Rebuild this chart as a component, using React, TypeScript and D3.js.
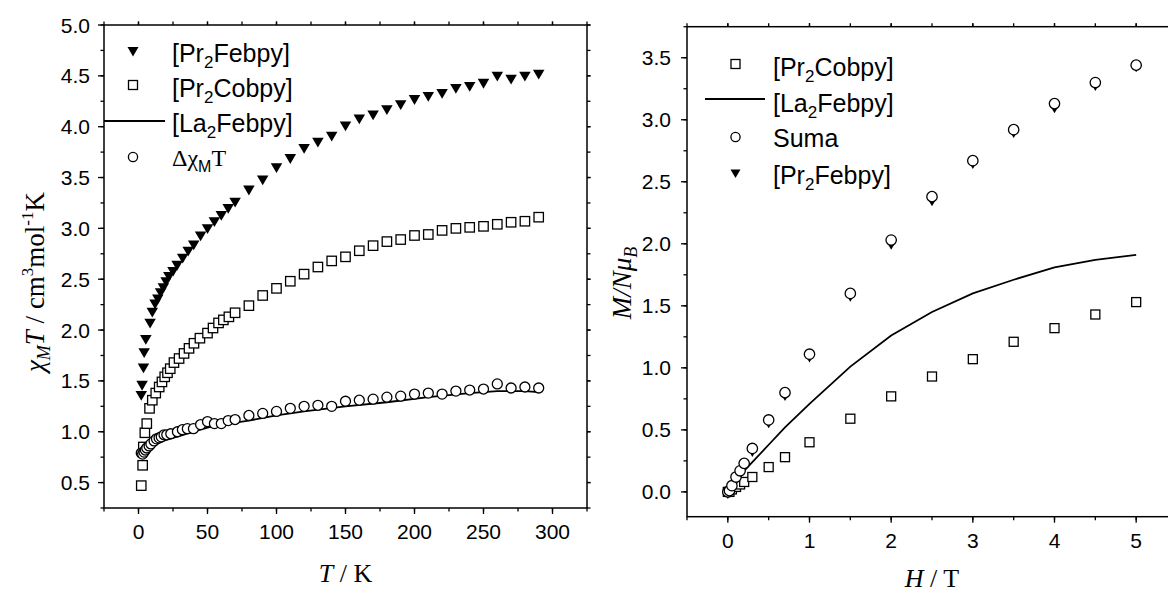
import React from "react";
import * as d3 from "d3";

// ---------- Left panel data (chi_M T vs T) ----------
const T_PrFe = [2, 2.6, 3.6, 4.1, 5.3, 8.4, 10, 12, 14, 16, 18, 20, 22, 25, 28, 32, 36, 40, 45, 50, 55, 60, 65, 70, 80, 90, 100, 110, 120, 130, 140, 150, 160, 170, 180, 190, 200, 210, 220, 230, 240, 250, 260, 270, 280, 290];
const V_PrFe = [1.36, 1.46, 1.63, 1.78, 1.91, 2.07, 2.18, 2.26, 2.31, 2.37, 2.42, 2.48, 2.53, 2.58, 2.64, 2.71, 2.78, 2.84, 2.93, 3.0, 3.07, 3.13, 3.2, 3.26, 3.38, 3.48, 3.6, 3.69, 3.79, 3.85, 3.91, 4.01, 4.08, 4.12, 4.17, 4.22, 4.27, 4.3, 4.33, 4.38, 4.4, 4.43, 4.5, 4.47, 4.5, 4.52];

const T_PrCo = [2, 3, 3.5, 4.6, 6, 8, 10, 12.5, 15, 17, 19, 21, 23, 25.7, 29.4, 33, 36.6, 40.2, 44.5, 50, 54, 58, 61.5, 65.5, 70, 80, 90, 100, 110, 120, 130, 140, 150, 160, 170, 180, 190, 200, 210, 220, 230, 240, 250, 260, 270, 280, 290];
const V_PrCo = [0.47, 0.67, 0.85, 0.99, 1.08, 1.23, 1.31, 1.38, 1.44, 1.49, 1.54, 1.58, 1.62, 1.68, 1.72, 1.77, 1.82, 1.87, 1.92, 1.97, 2.02, 2.07, 2.1, 2.13, 2.17, 2.24, 2.34, 2.41, 2.48, 2.55, 2.62, 2.68, 2.72, 2.78, 2.83, 2.87, 2.89, 2.93, 2.94, 2.98, 3.0, 3.01, 3.02, 3.04, 3.06, 3.07, 3.11];

const T_Delta = [2, 3, 4, 5, 6, 7.7, 9, 11.3, 13, 14.9, 16.5, 18.5, 20.5, 23.4, 28.2, 31.8, 35.4, 39.8, 45, 50, 55, 60, 65, 70, 80, 90, 100, 110, 120, 130, 140, 150, 160, 170, 180, 190, 200, 210, 220, 230, 240, 250, 260, 270, 280, 290];
const V_Delta = [0.79, 0.78, 0.8, 0.82, 0.84, 0.86, 0.88, 0.91, 0.93, 0.94, 0.95, 0.97, 0.97, 0.98, 1.0, 1.02, 1.03, 1.03, 1.07, 1.1, 1.08, 1.08, 1.11, 1.12, 1.16, 1.18, 1.2, 1.23, 1.25, 1.26, 1.25, 1.3, 1.31, 1.32, 1.34, 1.35, 1.37, 1.38, 1.37, 1.4, 1.41, 1.42, 1.47, 1.43, 1.44, 1.43];

const T_La = [2, 3, 5, 7, 10, 15, 20, 25, 30, 40, 50, 60, 70, 80, 100, 120, 150, 180, 210, 240, 260, 280, 290];
const V_La = [0.78, 0.79, 0.81, 0.84, 0.86, 0.89, 0.92, 0.94, 0.96, 1.0, 1.04, 1.07, 1.09, 1.11, 1.16, 1.2, 1.25, 1.29, 1.34, 1.38, 1.4, 1.4, 1.39];

// ---------- Right panel data (M/NmuB vs H) ----------
const H_pts = [0, 0.02, 0.05, 0.1, 0.15, 0.2, 0.3, 0.5, 0.7, 1, 1.5, 2, 2.5, 3, 3.5, 4, 4.5, 5];
const M_Suma = [0, 0.01, 0.05, 0.12, 0.17, 0.23, 0.35, 0.58, 0.8, 1.11, 1.6, 2.03, 2.38, 2.67, 2.92, 3.13, 3.3, 3.44];
const M_PrFe = [-0.02, -0.01, 0.02, 0.09, 0.14, 0.2, 0.32, 0.55, 0.77, 1.08, 1.57, 1.99, 2.34, 2.64, 2.89, 3.09, 3.27, 3.42];
const M_PrCo = [0, 0, 0.02, 0.04, 0.06, 0.08, 0.12, 0.2, 0.28, 0.4, 0.59, 0.77, 0.93, 1.07, 1.21, 1.32, 1.43, 1.53];
const H_La = [0, 0.1, 0.2, 0.3, 0.5, 0.7, 1, 1.5, 2, 2.5, 3, 3.5, 4, 4.5, 5];
const M_La = [0, 0.08, 0.17, 0.24, 0.38, 0.52, 0.71, 1.01, 1.26, 1.45, 1.6, 1.71, 1.81, 1.87, 1.91];

// ticks
const L_xMajor = [0, 50, 100, 150, 200, 250, 300];
const L_yMajor = [0.5, 1.0, 1.5, 2.0, 2.5, 3.0, 3.5, 4.0, 4.5, 5.0];
const R_xMajor = [0, 1, 2, 3, 4, 5];
const R_yMajor = [0.0, 0.5, 1.0, 1.5, 2.0, 2.5, 3.0, 3.5];

const SANS = "'Liberation Sans', Arial, sans-serif";
const SERIF = "'Liberation Serif', 'Times New Roman', serif";
const SW = 1.3;
const TICK_FS = 21;
const LEG_FS = 25;

const tri = (w: number, cx: number, cy: number) => {
  const h = w * 0.85;
  return `M${cx - w / 2},${cy - h * 0.42}L${cx + w / 2},${cy - h * 0.42}L${cx},${cy + h * 0.58}Z`;
};

function range(a: number, b: number, s: number) {
  const out: number[] = [];
  for (let v = a; v <= b + 1e-9; v += s) out.push(+v.toFixed(6));
  return out;
}

function Frame({ x, y, xMajor, xMinor, yMajor, yMinor, xFmt, yFmt, xLabelY, yLabelX }: any) {
  const [x0, x1] = x.range();
  const [y0, y1] = y.range(); // y0 bottom, y1 top
  const maj = 6, min = 3.5;
  return (
    <g>
      <rect x={x0} y={y1} width={x1 - x0} height={y0 - y1} fill="none" stroke="#000" strokeWidth={1.5} />
      {xMinor.map((v: number, i: number) => (
        <g key={"xm" + i}>
          <line x1={x(v)} x2={x(v)} y1={y0} y2={y0 + min} stroke="#000" strokeWidth={1.3} />
          <line x1={x(v)} x2={x(v)} y1={y1} y2={y1 - min} stroke="#000" strokeWidth={1.3} />
        </g>
      ))}
      {xMajor.map((v: number, i: number) => (
        <g key={"xM" + i}>
          <line x1={x(v)} x2={x(v)} y1={y0} y2={y0 + maj} stroke="#000" strokeWidth={1.3} />
          <line x1={x(v)} x2={x(v)} y1={y1} y2={y1 - min} stroke="#000" strokeWidth={1.3} />
          <text x={x(v)} y={xLabelY} textAnchor="middle" fontFamily={SANS} fontSize={TICK_FS}>{xFmt(v)}</text>
        </g>
      ))}
      {yMinor.map((v: number, i: number) => (
        <g key={"ym" + i}>
          <line x1={x0} x2={x0 - min} y1={y(v)} y2={y(v)} stroke="#000" strokeWidth={1.3} />
          <line x1={x1} x2={x1 + min} y1={y(v)} y2={y(v)} stroke="#000" strokeWidth={1.3} />
        </g>
      ))}
      {yMajor.map((v: number, i: number) => (
        <g key={"yM" + i}>
          <line x1={x0} x2={x0 - maj} y1={y(v)} y2={y(v)} stroke="#000" strokeWidth={1.3} />
          <line x1={x1} x2={x1 + min} y1={y(v)} y2={y(v)} stroke="#000" strokeWidth={1.3} />
          <text x={yLabelX} y={y(v) + 7.5} textAnchor="end" fontFamily={SANS} fontSize={TICK_FS}>{yFmt(v)}</text>
        </g>
      ))}
    </g>
  );
}

export default function App() {
  // Left scales
  const lx = d3.scaleLinear().domain([-25, 325]).range([104, 587]);
  const ly = d3.scaleLinear().domain([0.25, 5]).range([508, 25]);
  // Right scales
  const rx = d3.scaleLinear().domain([-0.5, 5.5]).range([687, 1177]);
  const ry = d3.scaleLinear().domain([-0.2, 3.75]).range([516.7, 26.7]);

  const lLine = d3.line<number>().x((_, i) => lx(T_La[i])).y((d) => ly(d));
  const rLine = d3.line<number>().x((_, i) => rx(H_La[i])).y((d) => ry(d));
  const f1 = d3.format(".1f");
  const f0 = d3.format("d");

  const legText = (pre: string, sub: string, post: string, x: number, y: number) => (
    <text x={x} y={y} fontFamily={SANS} fontSize={LEG_FS}>
      {pre}
      <tspan dy={6} fontSize={17}>{sub}</tspan>
      <tspan dy={-6}>{post}</tspan>
    </text>
  );

  return (
    <svg width={1168} height={594} style={{ position: "absolute", left: 0, top: 0, background: "#fff" }}>
      <rect width={1168} height={594} fill="#fff" />
      {/* ---------------- LEFT PANEL ---------------- */}
      <Frame
        x={lx} y={ly}
        xMajor={L_xMajor} xMinor={range(-25, 325, 25)}
        yMajor={L_yMajor} yMinor={range(0.25, 5, 0.25)}
        xFmt={f0} yFmt={f1} xLabelY={539} yLabelX={90}
      />
      <path d={lLine(V_La) || ""} fill="none" stroke="#000" strokeWidth={1.8} />
      {V_PrFe.map((v, i) => (
        <path key={"lt" + i} d={tri(11.5, lx(T_PrFe[i]), ly(v))} fill="#000" />
      ))}
      {V_PrCo.map((v, i) => (
        <rect key={"ls" + i} x={lx(T_PrCo[i]) - 4.7} y={ly(v) - 4.7} width={9.4} height={9.4} fill="#fff" stroke="#000" strokeWidth={SW} />
      ))}
      {V_Delta.map((v, i) => (
        <circle key={"lc" + i} cx={lx(T_Delta[i])} cy={ly(v)} r={5} fill="#fff" stroke="#000" strokeWidth={SW} />
      ))}
      {/* left legend */}
      <path d={tri(11, 133, 51)} fill="#000" />
      {legText("[Pr", "2", "Febpy]", 172, 62)}
      <rect x={128.5} y={80.5} width={9} height={9} fill="#fff" stroke="#000" strokeWidth={SW} />
      {legText("[Pr", "2", "Cobpy]", 172, 97)}
      <line x1={104} x2={165} y1={121} y2={121} stroke="#000" strokeWidth={1.8} />
      {legText("[La", "2", "Febpy]", 172, 132)}
      <circle cx={133} cy={157} r={4.6} fill="#fff" stroke="#000" strokeWidth={SW} />
      <text x={172} y={166} fontFamily={SERIF} fontSize={24}>
        Δχ
        <tspan dy={6} fontSize={16} fontFamily={SANS}>M</tspan>
        <tspan dy={-6}>T</tspan>
      </text>
      {/* left axis titles */}
      <text x={345.5} y={582} textAnchor="middle" fontFamily={SERIF} fontSize={26}>
        <tspan fontStyle="italic">T</tspan> / K
      </text>
      <text transform="translate(44,282) rotate(-90)" textAnchor="middle" fontFamily={SERIF} fontSize={27}>
        <tspan fontStyle="italic">χ</tspan>
        <tspan fontStyle="italic" fontSize={18} dy={6}>M</tspan>
        <tspan fontStyle="italic" dy={-6}>T</tspan>
        <tspan> / cm</tspan>
        <tspan fontSize={17} dy={-11}>3</tspan>
        <tspan dy={11}>mol</tspan>
        <tspan fontSize={17} dy={-11}>-1</tspan>
        <tspan dy={11}>K</tspan>
      </text>

      {/* ---------------- RIGHT PANEL ---------------- */}
      <Frame
        x={rx} y={ry}
        xMajor={R_xMajor} xMinor={range(-0.5, 5.5, 0.5)}
        yMajor={R_yMajor} yMinor={range(-0.0, 3.75, 0.25)}
        xFmt={f0} yFmt={f1} xLabelY={548} yLabelX={671}
      />
      {M_PrCo.map((v, i) => (
        <rect key={"rs" + i} x={rx(H_pts[i]) - 4.5} y={ry(v) - 4.5} width={9} height={9} fill="#fff" stroke="#000" strokeWidth={SW} />
      ))}
      <path d={rLine(M_La) || ""} fill="none" stroke="#000" strokeWidth={1.8} />
      {M_PrFe.map((v, i) => (
        <path key={"rt" + i} d={tri(9.5, rx(H_pts[i]), ry(v))} fill="#000" />
      ))}
      {M_Suma.map((v, i) => (
        <circle key={"rc" + i} cx={rx(H_pts[i])} cy={ry(v)} r={5.2} fill="#fff" stroke="#000" strokeWidth={SW} />
      ))}
      {/* right legend */}
      <rect x={731} y={59.5} width={9} height={9} fill="#fff" stroke="#000" strokeWidth={SW} />
      {legText("[Pr", "2", "Cobpy]", 773, 76)}
      <line x1={705} x2={765} y1={99} y2={99} stroke="#000" strokeWidth={1.8} />
      {legText("[La", "2", "Febpy]", 773, 112)}
      <circle cx={735.5} cy={137} r={4.6} fill="#fff" stroke="#000" strokeWidth={SW} />
      <text x={773} y={147} fontFamily={SANS} fontSize={LEG_FS}>Suma</text>
      <path d={tri(10, 735.5, 173)} fill="#000" />
      {legText("[Pr", "2", "Febpy]", 773, 184)}
      {/* right axis titles */}
      <text x={932} y={587} textAnchor="middle" fontFamily={SERIF} fontSize={26}>
        <tspan fontStyle="italic">H</tspan> / T
      </text>
      <text transform="translate(631,283) rotate(-90)" textAnchor="middle" fontFamily={SERIF} fontSize={27} fontStyle="italic">
        M/Nμ
        <tspan fontSize={18} dy={6}>B</tspan>
      </text>
    </svg>
  );
}
